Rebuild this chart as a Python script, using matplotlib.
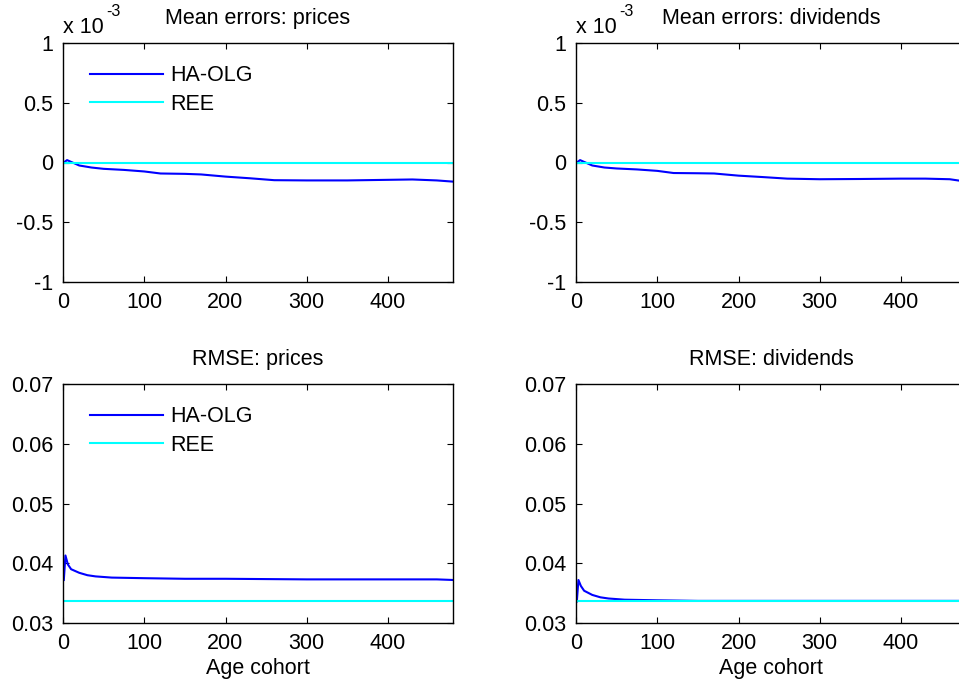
import matplotlib
matplotlib.use("Agg")
import matplotlib.pyplot as plt

plt.rcParams['font.family'] = ['Liberation Sans', 'DejaVu Sans']

# ---- data ----
age_me = [1, 5, 10, 20, 35, 50, 75, 100, 120, 150, 170, 200, 230, 260, 300, 350, 400, 430, 460, 480]
me_prices_haolg = [0.0, 0.02, 0.005, -0.025, -0.042, -0.053, -0.062, -0.075, -0.092, -0.095, -0.1, -0.118,
                   -0.132, -0.148, -0.15, -0.15, -0.145, -0.142, -0.15, -0.16]
me_div_haolg = [0.0, 0.02, 0.005, -0.025, -0.042, -0.05, -0.058, -0.07, -0.088, -0.09, -0.092, -0.11,
                -0.122, -0.135, -0.14, -0.138, -0.135, -0.135, -0.14, -0.16]
me_ree = [0.0, 0.0]
age_ree = [0, 480]

age_rmse = [1, 3, 6, 10, 20, 30, 40, 60, 100, 150, 200, 300, 400, 460, 480]
rmse_prices_haolg = [0.0372, 0.0413, 0.0398, 0.0390, 0.0384, 0.0380, 0.0378, 0.0376, 0.0375, 0.0374,
                     0.0374, 0.0373, 0.0373, 0.0373, 0.0372]
rmse_div_haolg = [0.0336, 0.0372, 0.0362, 0.0354, 0.0347, 0.0343, 0.0341, 0.0339, 0.0338, 0.0337,
                  0.0337, 0.0337, 0.0337, 0.0337, 0.0337]
rmse_ree = [0.0336, 0.0336]

me_yticks = [-1, -0.5, 0, 0.5, 1]
me_yticklabels = ['-1', '-0.5', '0', '0.5', '1']
rmse_yticks = [0.03, 0.04, 0.05, 0.06, 0.07]
rmse_yticklabels = ['0.03', '0.04', '0.05', '0.06', '0.07']
xticks = [0, 100, 200, 300, 400]
titles = ['Mean errors: prices', 'Mean errors: dividends', 'RMSE: prices', 'RMSE: dividends']

W, H = 959, 689
fig = plt.figure(figsize=(W / 100, H / 100), dpi=100)

FS = 15.5
BLUE = (0, 0, 1)
CYAN = (0, 1, 1)


def make_ax(left, top, width, height):
    return fig.add_axes([left / W, 1 - (top + height) / H, width / W, height / H])


def style(ax, yt, ytl):
    ax.set_xlim(0, 480)
    ax.set_xticks(xticks)
    ax.set_xticklabels([str(t) for t in xticks])
    ax.set_yticks(yt)
    ax.set_yticklabels(ytl)
    ax.set_ylim(yt[0], yt[-1])
    ax.tick_params(direction='in', length=4, width=0.8, labelsize=FS, top=True, right=True, pad=7)
    for s in ax.spines.values():
        s.set_linewidth(1.0)


axw, axh = 390, 239
ax1 = make_ax(63, 43, axw, axh)
ax2 = make_ax(576, 43, axw, axh)
ax3 = make_ax(63, 384, axw, axh)
ax4 = make_ax(576, 384, axw, axh)

for ax, y in [(ax1, me_prices_haolg), (ax2, me_div_haolg)]:
    ax.plot(age_me, y, color=BLUE, lw=1.5, label='HA-OLG')
    ax.plot(age_ree, me_ree, color=CYAN, lw=1.5, label='REE')
    style(ax, me_yticks, me_yticklabels)
    ax.text(0.0, 1.02, 'x 10', transform=ax.transAxes, fontsize=FS, ha='left', va='bottom')
    ax.text(0.11, 1.10, '-3', transform=ax.transAxes, fontsize=FS * 0.75, ha='left', va='bottom')

for ax, y in [(ax3, rmse_prices_haolg), (ax4, rmse_div_haolg)]:
    ax.plot(age_rmse, y, color=BLUE, lw=1.5, label='HA-OLG')
    ax.plot(age_ree, rmse_ree, color=CYAN, lw=1.5, label='REE')
    style(ax, rmse_yticks, rmse_yticklabels)
    ax.set_xlabel('Age cohort', fontsize=FS, labelpad=3)

for ax, t in zip([ax1, ax2, ax3, ax4], titles):
    ax.set_title(t, fontsize=FS, pad=13.5)

for ax in [ax1, ax3]:
    ax.legend(loc='upper left', frameon=False, fontsize=FS, handlelength=3.4, handletextpad=0.35,
              borderaxespad=0.3, bbox_to_anchor=(0.03, 0.97), labelspacing=0.35)

fig.savefig('out.png', dpi=100)
